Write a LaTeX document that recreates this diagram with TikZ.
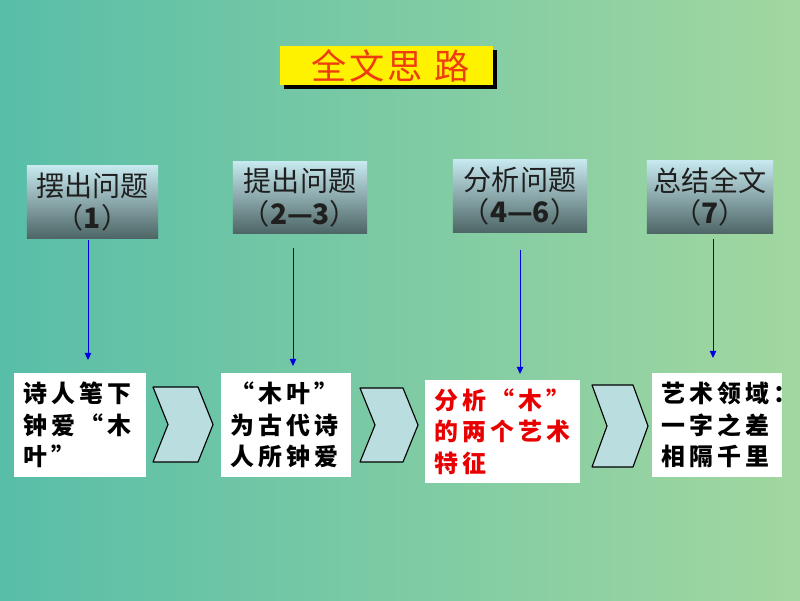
\documentclass[tikz,border=0pt]{standalone}
\usepackage{fontspec}
\usetikzlibrary{arrows.meta,calc}
\newfontfamily\cjk{Noto Sans CJK SC}
\newfontfamily\cjkhead[LetterSpace=8]{Noto Sans CJK SC}
\newfontfamily\cjknote[LetterSpace=17,RawFeature=+fwid]{Noto Sans CJK SC}
\definecolor{bgLeft}{RGB}{88,190,168}
\definecolor{bgRight}{RGB}{162,215,160}
\definecolor{capTop}{RGB}{198,232,238}
\definecolor{capBot}{RGB}{78,102,102}
\definecolor{chevFill}{RGB}{186,222,224}
\definecolor{titleRed}{RGB}{238,60,16}
\definecolor{arrBlue}{RGB}{0,0,230}
\definecolor{noteRed}{RGB}{232,0,0}
\tikzset{
  headbox/.style = {fill=yellow, minimum width=5.325cm, minimum height=0.975cm,
                    inner sep=0pt, text=titleRed,
                    font=\cjkhead\fontsize{25}{27}\selectfont},
  stage/.style   = {top color=capTop, bottom color=capBot, minimum width=3.35cm,
                    minimum height=1.8cm, inner sep=0pt, align=center,
                    text=black!88, font=\cjk\fontsize{20}{23}\selectfont},
  note/.style    = {fill=white, minimum height=2.6cm, inner xsep=0.25cm,
                    inner ysep=0pt, text width=2.8cm, align=left,
                    font=\cjknote\bfseries\fontsize{17}{22.5}\selectfont},
  chev/.style    = {fill=chevFill, draw=black, line width=0.8pt, line join=round},
  arr/.style     = {-{Triangle[width=4.5pt,length=5pt]}, arrBlue, line width=0.7pt}
}

\begin{document}
\begin{tikzpicture}[x=0.025cm, y=-0.025cm]
    % Background
    \fill[left color=bgLeft, right color=bgRight] (0,0) rectangle (800,600);

    % Title
    \fill[black] (284,50) rectangle (497,89);
    \node[headbox] (head) at (386.5,65.5) {\hspace{6pt}全文思\hspace{8pt}路};

    % Stage boxes
    \node[stage, minimum width=3.275cm] (t1) at (92.5,202) {摆出问题\\（\textbf{1}）};
    \node[stage, minimum height=1.775cm] (t2) at (300,197.5) {提出问题\\（\textbf{2—3}）};
    \node[stage] (t3) at (520,196) {分析问题\\（\textbf{4—6}）};
    \node[stage, minimum width=3.15cm] (t4) at (710,197) {总结全文\\（\textbf{7}）};

    % Content boxes
    \node[note] (b1) at (80,425) {诗人笔下\\钟爱“木\\叶”};
    \node[note, text width=2.75cm] (b2) at (286,425) {“木叶”\\为古代诗\\人所钟爱};
    \node[note, text width=3.375cm, minimum height=2.575cm, text=noteRed]
      (b3) at (502.5,431.5) {分析“木”\\的两个艺术\\特征};
    \node[note, text width=2.75cm] (b4) at (717,425) {艺术领域：\\一字之差\\相隔千里};

    % Down arrows
    \foreach \i/\x/\gap/\y in {1/88/2/360, 2/293/15/366, 3/520/18/374, 4/713/6/358} {
      \coordinate (e\i) at (\x,\y);
      \draw[arr] ($(t\i.south -| e\i)+(0,\gap)$) -- (e\i);
    }

    % Chevrons
    \foreach \x/\y/\w/\h in {153/387/60/75, 360/388/58/74, 592/385/56/82}
      \draw[chev] (\x,\y) -- (\x+\w-15,\y) -- (\x+\w,\y+\h/2) -- (\x+\w-15,\y+\h)
        -- (\x,\y+\h) -- (\x+15,\y+\h/2) -- cycle;
  \end{tikzpicture}
\end{document}
